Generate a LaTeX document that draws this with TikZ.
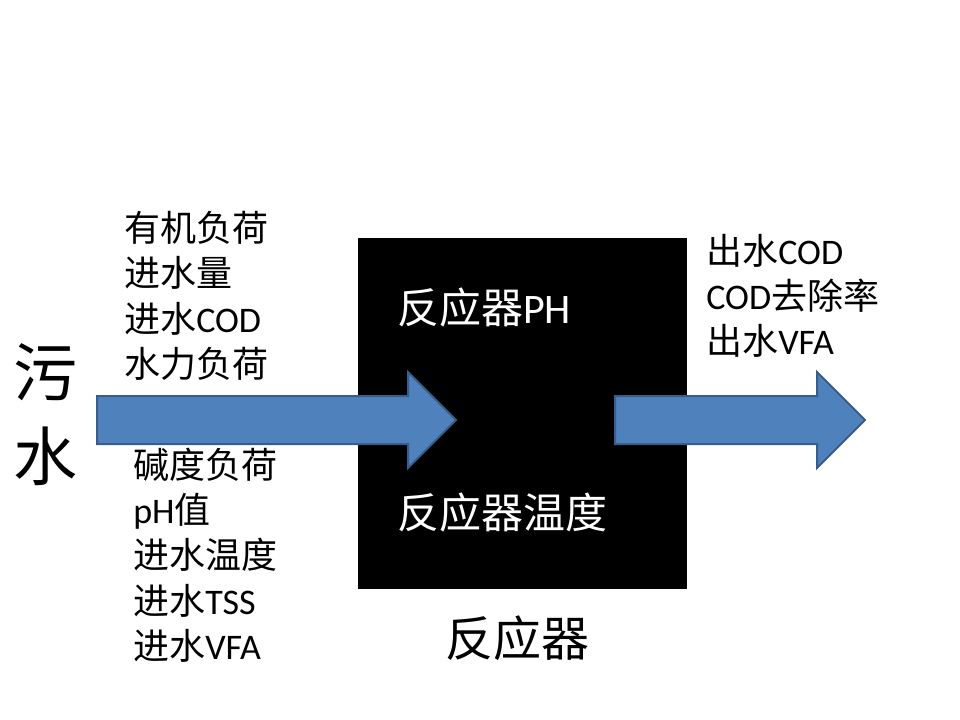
\documentclass[tikz,border=0pt]{standalone}
\usepackage{fontspec}
\setmainfont{Carlito}
\newfontfamily\cjk{Noto Sans CJK SC}
\usetikzlibrary{positioning}
\definecolor{flowblue}{HTML}{4F81BD}
\definecolor{flowedge}{HTML}{385D8A}
\newcommand{\zh}[1]{{\cjk #1}}

\begin{document}
\begin{tikzpicture}[
  x=0.75pt, y=-0.75pt,
  blockarrow/.style={fill=flowblue, draw=flowedge, line width=1.5pt, line join=miter},
  reactorbox/.style={fill=black, draw=black, minimum width=246pt, minimum height=262.5pt, inner sep=0pt},
  varlist/.style={align=left, anchor=west, inner sep=0pt, font=\fontsize{27}{34}\selectfont},
  boxtext/.style={anchor=west, inner sep=0pt, text=white, font=\fontsize{31.5}{38}\selectfont}]
  \useasboundingbox (0,0) rectangle (960,720);
  % reactor and its name
  \node[reactorbox] (reactor) at (522,413) {};
  \node[inner sep=0pt, font=\fontsize{36}{43}\selectfont] (name) at (517,638) {\zh{反应器}};
  \node[boxtext] (ph) at (397,308) {\zh{反应器}PH};
  \node[boxtext] (temp) at (397,513) {\zh{反应器温度}};
  % inflow
  \node[align=center, inner sep=0pt, font=\fontsize{48}{63}\selectfont] (sewage) at (45,415) {\zh{污}\\\zh{水}};
  \draw[blockarrow] (97,396) -- (408,396) -- (408,372) -- (456,420)
    -- (408,468) -- (408,444) -- (97,444) -- cycle;
  \node[varlist] (inupper) at (124,296) {\zh{有机负荷}\\\zh{进水量}\\\zh{进水}COD\\\zh{水力负荷}};
  \node[varlist] (inlower) at (133,555) {\zh{碱度负荷}\\pH\zh{值}\\\zh{进水温度}\\\zh{进水}TSS\\\zh{进水}VFA};
  % outflow
  \draw[blockarrow] (615,396) -- (817,396) -- (817,372) -- (865,420)
    -- (817,468) -- (817,444) -- (615,444) -- cycle;
  \node[varlist] (out) at (706,296) {\zh{出水}COD\\COD\zh{去除率}\\\zh{出水}VFA};
\end{tikzpicture}
\end{document}
